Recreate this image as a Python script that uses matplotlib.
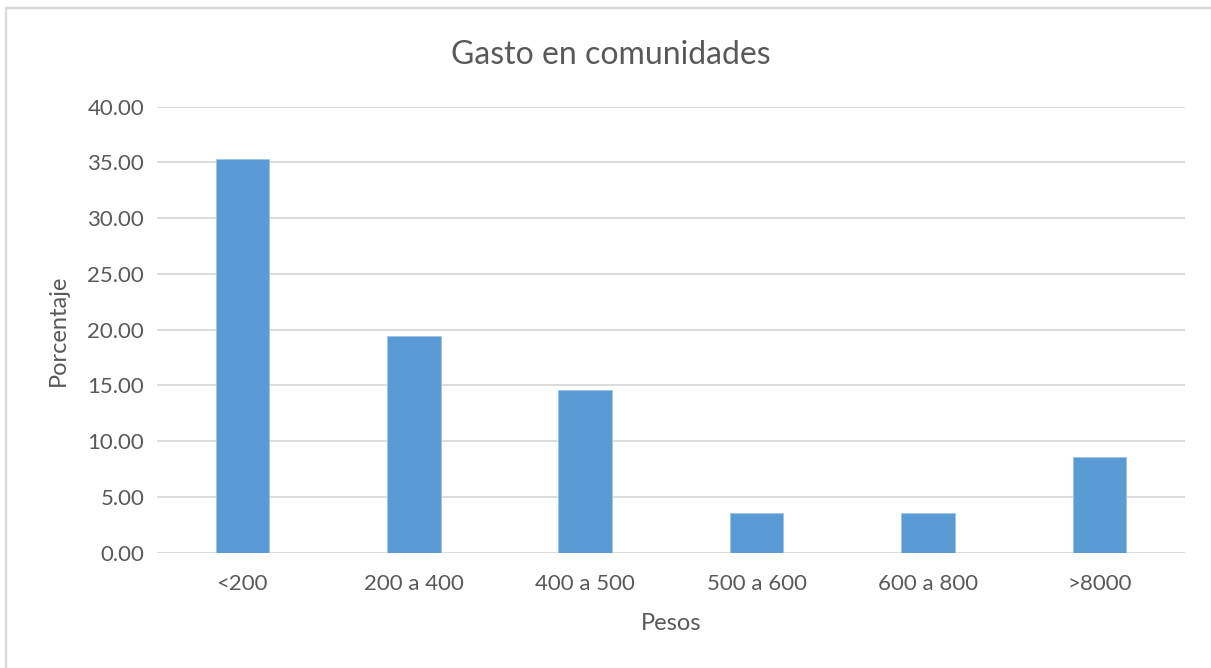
import matplotlib
matplotlib.use("Agg")
import matplotlib.pyplot as plt
from matplotlib.lines import Line2D

# Spending brackets (pesos) and share of communities (%)
categories = ["<200", "200 a 400", "400 a 500", "500 a 600", "600 a 800", ">8000"]
porcentaje = [35.28, 19.43, 14.59, 3.56, 3.56, 8.56]
y_ticks = [0, 5, 10, 15, 20, 25, 30, 35, 40]

TEXT = "#595959"
GRID = "#D9D9D9"
BAR = "#5B9BD5"

plt.rcParams["font.family"] = ["Lato", "DejaVu Sans"]

W, H = 1211, 668
fig = plt.figure(figsize=(W / 100, H / 100), dpi=100)
fig.patch.set_facecolor("white")

# Chart area frame (top and left edges visible)
fig.add_artist(Line2D([6 / W, 1.0], [1 - 8 / H, 1 - 8 / H], transform=fig.transFigure,
                      color=GRID, lw=1.6))
fig.add_artist(Line2D([6 / W, 6 / W], [0.0, 1 - 8 / H], transform=fig.transFigure,
                      color=GRID, lw=1.6))

left, right = 156.7 / W, 1185 / W
bottom, top = (H - 552.7) / H, (H - 106.7) / H
ax = fig.add_axes([left, bottom, right - left, top - bottom])

x = list(range(len(categories)))
ax.bar(x, porcentaje, width=0.312, color=BAR, edgecolor="#9DC3E6", linewidth=0.6, zorder=3)

ax.set_xlim(-0.5, len(categories) - 0.5)
ax.set_ylim(0, 40)
ax.set_yticks(y_ticks)
ax.set_yticklabels([f"{v:.2f}" for v in y_ticks])
ax.set_xticks(x)
ax.set_xticklabels(categories)
ax.tick_params(axis="both", length=0, labelsize=16, labelcolor=TEXT)
ax.tick_params(axis="y", pad=9)
ax.tick_params(axis="x", pad=15)

ax.grid(axis="y", color=GRID, lw=1.3, zorder=0)
for s in ax.spines.values():
    s.set_visible(False)

fig.text(611 / W, 1 - 55 / H, "Gasto en comunidades", ha="center", va="center",
         fontsize=23, color=TEXT)
fig.text(58 / W, 1 - 330 / H, "Porcentaje", ha="center", va="center", rotation=90,
         fontsize=17, color=TEXT)
fig.text(671 / W, 1 - 624 / H, "Pesos", ha="center", va="center",
         fontsize=17, color=TEXT)

fig.savefig("out.png", dpi=100, facecolor="white")
